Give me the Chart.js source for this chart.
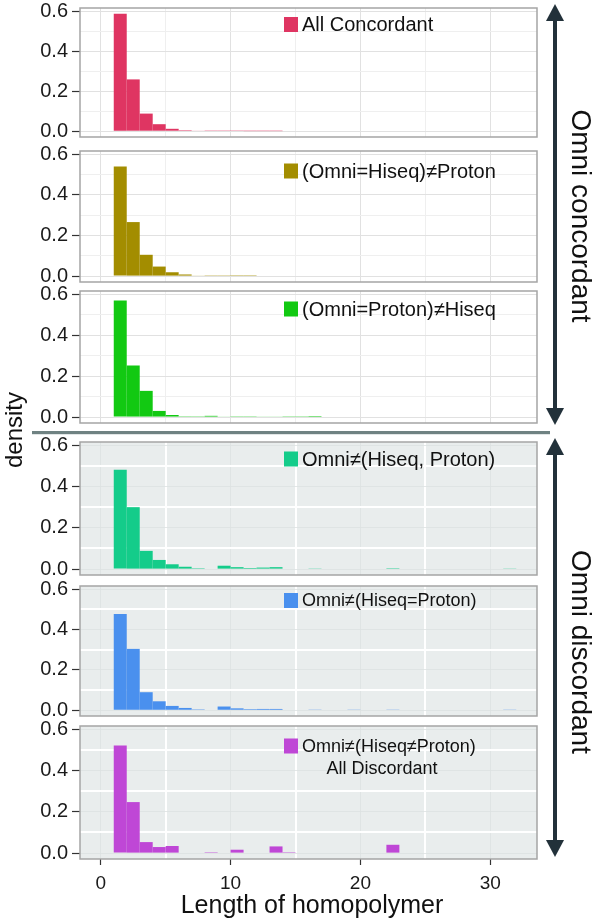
<!DOCTYPE html>
<html>
<head>
<meta charset="utf-8">
<script src="https://cdn.jsdelivr.net/npm/chart.js@4.4.1/dist/chart.umd.min.js"></script>
<style>
  body { margin: 0; background: #fff; width: 600px; height: 921px; position: relative; overflow: hidden; }
  canvas { position: absolute; left: 0; }
</style>
</head>
<body>
<canvas id="overlay" width="600" height="921" style="top:0"></canvas>
<div id="panels"></div>
<script>
// histogram bins (left edge of each 1-wide bin)
const bins = [1, 2, 3, 4, 5, 6, 7, 8, 9, 10, 11, 12, 13, 14, 15, 16, 17, 18, 19, 20, 21, 22, 23, 24, 25, 26, 27, 28, 29, 30, 31];

// density per bin
const allConcordant   = [0.587, 0.259, 0.088, 0.035, 0.012, 0.005, 0.002, 0.001, 0.001, 0.001, 0.0005, 0.0005, 0.0005, 0, 0, 0, 0, 0, 0, 0, 0, 0, 0, 0, 0, 0, 0, 0, 0, 0, 0];
const omniHiseqNotPro = [0.540, 0.266, 0.105, 0.047, 0.019, 0.008, 0.003, 0.001, 0.001, 0.0005, 0.0005, 0, 0, 0, 0, 0, 0, 0, 0, 0, 0, 0, 0, 0, 0, 0, 0, 0, 0, 0, 0];
const omniProNotHiseq = [0.569, 0.252, 0.128, 0.030, 0.010, 0.004, 0.001, 0.006, 0.002, 0.001, 0.001, 0.003, 0.003, 0.001, 0.001, 0.005, 0, 0, 0, 0, 0, 0, 0, 0, 0, 0, 0, 0, 0, 0, 0];
const omniNotBoth     = [0.482, 0.300, 0.088, 0.044, 0.023, 0.011, 0.004, 0, 0.016, 0.009, 0.005, 0.007, 0.009, 0, 0, 0.003, 0, 0, 0, 0, 0, 0.004, 0, 0, 0, 0, 0, 0, 0.002, 0, 0.001];
const omniNotHsEqPro  = [0.477, 0.304, 0.089, 0.044, 0.021, 0.011, 0.004, 0, 0.018, 0.009, 0.005, 0.006, 0.006, 0, 0, 0.003, 0, 0, 0.001, 0, 0, 0.003, 0, 0, 0, 0, 0, 0, 0.002, 0, 0.001];
const allDiscordant   = [0.521, 0.247, 0.053, 0.029, 0.034, 0, 0, 0.004, 0, 0.016, 0, 0, 0.032, 0.004, 0, 0, 0, 0, 0, 0, 0, 0.040, 0, 0, 0, 0, 0, 0, 0, 0, 0];

const series = [allConcordant, omniHiseqNotPro, omniProNotHiseq, omniNotBoth, omniNotHsEqPro, allDiscordant];
const seriesLabels = [
  ['All Concordant'],
  ['(Omni=Hiseq)\u2260Proton'],
  ['(Omni=Proton)\u2260Hiseq'],
  ['Omni\u2260(Hiseq, Proton)'],
  ['Omni\u2260(Hiseq=Proton)'],
  ['Omni\u2260(Hiseq\u2260Proton)', 'All Discordant']
];
const xTickLabels = [0, 10, 20, 30];
const yTickLabels = [0.0, 0.2, 0.4, 0.6];

// look
const colors = ['#DF3562', '#A38D00', '#12C912', '#14CC8A', '#4A90EE', '#BF47D6'];
const panelTop    = [7, 150, 290, 441, 585, 725];
const panelBottom = [138, 283, 424, 576, 717, 859];
const legendY     = [24.5, 171, 309, 459, 600.5, 746];
const legendSize  = [20, 20, 20, 20, 18, 18];
const FONT = '"Liberation Sans", Arial, Helvetica, sans-serif';

const panelDeco = {
  id: 'panelDeco',
  beforeDraw(chart, args, o) {
    const { ctx, chartArea: a } = chart;
    ctx.save();
    ctx.fillStyle = o.bg;
    ctx.fillRect(a.left, a.top, a.width, a.height);
    ctx.restore();
  },
  afterDraw(chart, args, o) {
    const { ctx, chartArea: a } = chart;
    ctx.save();
    ctx.strokeStyle = '#a5a5a5';
    ctx.lineWidth = 1.5;
    ctx.strokeRect(a.left, a.top, a.width, a.height);
    // legend key + text
    ctx.fillStyle = o.color;
    ctx.fillRect(284, o.ly - 7.5, 14, 15);
    ctx.fillStyle = '#111';
    ctx.font = o.size + 'px ' + FONT;
    ctx.textBaseline = 'middle';
    ctx.textAlign = 'left';
    ctx.fillText(o.label[0], 302, o.ly + 1);
    if (o.label[1]) {
      ctx.textAlign = 'center';
      ctx.fillText(o.label[1], 382, o.ly + 23);
    }
    ctx.restore();
  }
};

const tickVal = c => (c && c.tick) ? c.tick.value : NaN;
const isMajorX = v => Math.round(v) % 10 === 0;
const isMajorY = v => Math.round(v * 10) % 2 === 0;

function makePanel(i) {
  const last = i === series.length - 1;
  const shaded = i >= 3;
  const t = panelTop[i], b = panelBottom[i];
  const h = (b - t) + (last ? 65 : 30);
  const cv = document.createElement('canvas');
  cv.width = 540;
  cv.height = h;
  cv.style.top = (t - 15) + 'px';
  document.getElementById('panels').appendChild(cv);

  const gridColor = (major) => shaded ? (major ? '#dce1e1' : '#ffffff') : (major ? '#e1e1e1' : '#efefef');
  const gridWidth = (major) => shaded ? (major ? 0.8 : 2) : 1;

  new Chart(cv.getContext('2d'), {
    type: 'bar',
    data: {
      datasets: [{
        data: bins.map((b0, k) => ({ x: b0 + 0.5, y: series[i][k] })),
        backgroundColor: colors[i],
        borderWidth: 0,
        inflateAmount: 0,
        barPercentage: 1,
        categoryPercentage: 1
      }]
    },
    options: {
      responsive: false,
      animation: false,
      layout: { padding: { top: 15, bottom: last ? 10 : 15, left: 0, right: 3 } },
      plugins: {
        legend: { display: false },
        tooltip: { enabled: false },
        panelDeco: { bg: shaded ? '#E9EDED' : '#ffffff', color: colors[i], ly: legendY[i] - (t - 15), size: legendSize[i], label: seriesLabels[i] }
      },
      scales: {
        x: {
          type: 'linear',
          min: -1.6,
          max: 33.6,
          offset: false,
          border: { display: false },
          afterFit: s => { s.height = last ? 40 : 0; },
          ticks: {
            display: last,
            stepSize: 5,
            includeBounds: false,
            autoSkip: false,
            maxRotation: 0,
            padding: 7,
            color: '#1a1a1a',
            font: { family: FONT, size: 19 },
            callback: v => xTickLabels.includes(Math.round(v)) && isMajorX(v) ? String(Math.round(v)) : ''
          },
          grid: {
            offset: false,
            drawTicks: last,
            tickLength: 6,
            color: c => gridColor(isMajorX(tickVal(c))),
            lineWidth: c => gridWidth(isMajorX(tickVal(c))),
            tickColor: c => isMajorX(tickVal(c)) ? '#333' : 'rgba(0,0,0,0)',
            tickWidth: 1.2
          }
        },
        y: {
          min: -0.029,
          max: 0.616,
          border: { display: false },
          afterFit: s => { s.width = 80; },
          ticks: {
            stepSize: 0.1,
            includeBounds: false,
            autoSkip: false,
            padding: 4,
            color: '#1a1a1a',
            font: { family: FONT, size: 20 },
            callback: v => isMajorY(v) && yTickLabels.some(l => Math.abs(l - v) < 1e-6) ? v.toFixed(1) : ''
          },
          grid: {
            drawTicks: true,
            tickLength: 8,
            color: c => gridColor(isMajorY(tickVal(c))),
            lineWidth: c => gridWidth(isMajorY(tickVal(c))),
            tickColor: c => isMajorY(tickVal(c)) ? '#333' : 'rgba(0,0,0,0)',
            tickWidth: 1.2
          }
        }
      }
    },
    plugins: [panelDeco]
  });
}

series.forEach((s, i) => makePanel(i));

// shared annotations: axis titles, separator, side arrows
const o = document.getElementById('overlay').getContext('2d');
o.fillStyle = '#111';
o.textAlign = 'center';
o.textBaseline = 'middle';
o.font = '25px ' + FONT;
o.fillText('Length of homopolymer', 312, 906);

o.save();
o.translate(15, 430);
o.rotate(-Math.PI / 2);
o.font = '24px ' + FONT;
o.fillText('density', 0, 0);
o.restore();

o.fillStyle = '#6F8282';
o.fillRect(32, 431, 518, 3.2);

function arrow(y0, y1) {
  // double headed vertical arrow at x=555
  const x = 555, hw = 9, hl = 17;
  o.fillStyle = '#22313A';
  o.fillRect(x - 2, y0 + hl - 1, 4, (y1 - y0) - 2 * hl + 2);
  o.beginPath(); o.moveTo(x, y0); o.lineTo(x - hw, y0 + hl); o.lineTo(x + hw, y0 + hl); o.closePath(); o.fill();
  o.beginPath(); o.moveTo(x, y1); o.lineTo(x - hw, y1 - hl); o.lineTo(x + hw, y1 - hl); o.closePath(); o.fill();
}
arrow(4, 425);
arrow(438, 857);

o.fillStyle = '#111';
o.font = '28px ' + FONT;
[['Omni concordant', 216], ['Omni discordant', 652]].forEach(([txt, cy]) => {
  o.save();
  o.translate(580, cy);
  o.rotate(Math.PI / 2);
  o.fillText(txt, 0, 0);
  o.restore();
});
</script>
</body>
</html>
